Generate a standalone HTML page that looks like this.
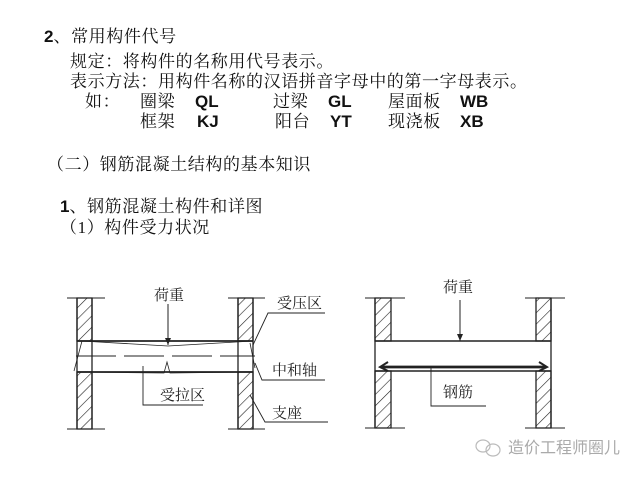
<!DOCTYPE html>
<html><head><meta charset="utf-8"><style>
html,body{margin:0;padding:0;background:#fff;}
body{width:640px;height:480px;position:relative;overflow:hidden;font-family:"Liberation Serif","Noto Serif CJK SC",serif;color:#111;}
.t{position:absolute;font-size:17px;line-height:20px;white-space:nowrap;letter-spacing:0.6px;}
.b{font-family:"Liberation Sans","Noto Sans CJK SC",sans-serif;font-weight:bold;letter-spacing:0;}
svg{position:absolute;left:0;top:0;}
</style></head><body>
<div class="t" style="left:44px;top:27px"><span class="b">2</span>、常用构件代号</div>
<div class="t" style="left:70px;top:52px">规定：将构件的名称用代号表示。</div>
<div class="t" style="left:70px;top:72px">表示方法：用构件名称的汉语拼音字母中的第一字母表示。</div>
<div class="t" style="left:85px;top:92px">如：</div>
<div class="t" style="left:140px;top:92px">圈梁</div>
<div class="t b" style="left:195px;top:92px">QL</div>
<div class="t" style="left:273px;top:92px">过梁</div>
<div class="t b" style="left:328px;top:92px">GL</div>
<div class="t" style="left:388px;top:92px">屋面板</div>
<div class="t b" style="left:460px;top:92px">WB</div>
<div class="t" style="left:140px;top:112px">框架</div>
<div class="t b" style="left:197px;top:112px">KJ</div>
<div class="t" style="left:275px;top:112px">阳台</div>
<div class="t b" style="left:330px;top:112px">YT</div>
<div class="t" style="left:388px;top:112px">现浇板</div>
<div class="t b" style="left:460px;top:112px">XB</div>
<div class="t" style="left:47px;top:155px">（二）钢筋混凝土结构的基本知识</div>
<div class="t" style="left:60px;top:197px"><span class="b">1</span>、钢筋混凝土构件和详图</div>
<div class="t" style="left:60px;top:218px">（1）构件受力状况</div>

<svg width="640" height="480" viewBox="0 0 640 480">
<defs>
<pattern id="h" width="8" height="8" patternUnits="userSpaceOnUse" patternTransform="rotate(45)">
<line x1="0" y1="0" x2="0" y2="8" stroke="#222" stroke-width="1.2"/>
</pattern>
<marker id="a" markerWidth="8" markerHeight="8" refX="7" refY="4" orient="auto" markerUnits="userSpaceOnUse">
<path d="M0,1 L7,4 L0,7" fill="#222"/></marker>
</defs>
<g stroke="#222" stroke-width="1.3" fill="none">
<rect x="77" y="298" width="15" height="43" fill="url(#h)"/>
<rect x="77" y="372" width="15" height="57" fill="url(#h)"/>
<rect x="238" y="298" width="15" height="43" fill="url(#h)"/>
<rect x="238" y="372" width="15" height="57" fill="url(#h)"/>
<line x1="77" y1="298" x2="77" y2="429"/><line x1="238" y1="298" x2="238" y2="429"/>
<line x1="253" y1="298" x2="253" y2="429"/><line x1="92" y1="298" x2="92" y2="429"/>
<line x1="67" y1="298" x2="105" y2="298" stroke-width="1"/><line x1="228" y1="298" x2="265" y2="298" stroke-width="1"/>
<line x1="67" y1="429" x2="105" y2="429" stroke-width="1"/><line x1="228" y1="429" x2="265" y2="429" stroke-width="1"/>
<line x1="77" y1="341" x2="253" y2="341" stroke-width="1.8"/>
<line x1="77" y1="372" x2="253" y2="372" stroke-width="1.8"/>
<path d="M82,341 L168,346 L253,341" stroke-width="0.8"/>
<path d="M82,372 L164,373 L167,362 L170,373 L253,372" stroke-width="0.8"/>
<line x1="76" y1="356" x2="255" y2="356" stroke-dasharray="40,8" stroke-width="0.9"/>
<path d="M82,341 L74,371 M250,343 L255,368" stroke-width="0.8"/>
<line x1="168" y1="304" x2="168" y2="345" marker-end="url(#a)" stroke-width="1"/>
<path d="M253,345 L268,313 L325,313" stroke-width="0.9"/>
<path d="M255,363 L262,380 L325,380" stroke-width="0.9"/>
<path d="M250,395 L265,422 L328,422" stroke-width="0.9"/>
<path d="M143,366 L143,405 L203,405" stroke-width="0.9"/>
<rect x="375" y="298" width="16" height="43" fill="url(#h)"/>
<rect x="375" y="371" width="16" height="57" fill="url(#h)"/>
<rect x="536" y="298" width="15" height="43" fill="url(#h)"/>
<rect x="536" y="371" width="15" height="57" fill="url(#h)"/>
<line x1="375" y1="298" x2="375" y2="428"/><line x1="551" y1="298" x2="551" y2="428"/>
<line x1="365" y1="298" x2="405" y2="298" stroke-width="1"/><line x1="525" y1="298" x2="565" y2="298" stroke-width="1"/>
<line x1="365" y1="428" x2="405" y2="428" stroke-width="1"/><line x1="525" y1="428" x2="565" y2="428" stroke-width="1"/>
<line x1="375" y1="341" x2="551" y2="341" stroke-width="1.5"/>
<line x1="375" y1="371" x2="551" y2="371" stroke-width="1.5"/>
<line x1="381" y1="367" x2="546" y2="367" stroke-width="2.8"/>
<path d="M388,362 L380,367 L388,371" stroke-width="2"/>
<path d="M539,362 L547,367 L539,371" stroke-width="2"/>
<line x1="460" y1="300" x2="460" y2="341" marker-end="url(#a)" stroke-width="1"/>
<path d="M431,367 L431,406 L486,406" stroke-width="0.9"/>
</g>
<g font-family="Liberation Serif, Noto Serif CJK SC, serif" font-size="15" fill="#222">
<text x="154" y="300">荷重</text>
<text x="277" y="308">受压区</text>
<text x="272" y="375">中和轴</text>
<text x="160" y="400">受拉区</text>
<text x="272" y="418">支座</text>
<text x="443" y="292">荷重</text>
<text x="443" y="397">钢筋</text>
</g>
<g stroke="#bbb" fill="none" stroke-width="1.2">
<ellipse cx="483" cy="446" rx="7" ry="6"/><ellipse cx="493" cy="450" rx="7" ry="6"/>
</g>
<text x="508" y="453" font-family="Liberation Sans, Noto Sans CJK SC, sans-serif" font-size="16" fill="#aaa">造价工程师圈儿</text>
</svg>
</body></html>
